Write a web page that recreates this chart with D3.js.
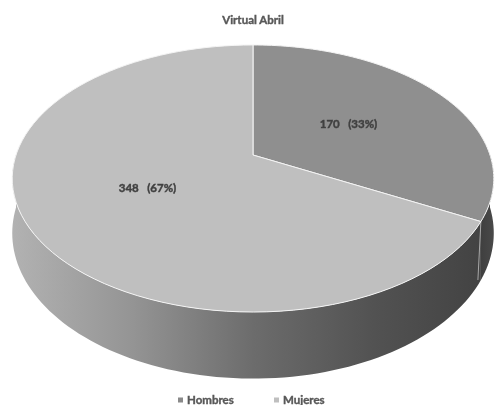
<!DOCTYPE html>
<html>
<head>
<meta charset="utf-8">
<script src="https://cdn.jsdelivr.net/npm/d3@7"></script>
<style>
  html, body { margin: 0; padding: 0; background: #fff; }
  text { font-family: Lato, "Open Sans", sans-serif; font-weight: 700; white-space: pre; stroke-width: 0.4px; }
</style>
</head>
<body>
<div id="chart"></div>
<script>
var title = "Virtual Abril";
var categories = ["Hombres", "Mujeres"];
var values = [170, 348];
var percents = ["33%", "67%"];

var width = 503, height = 405;
var topColor = ["#8f8f8f", "#bfbfbf"];
var legendColor = ["#8a8a8a", "#bfbfbf"];

var svg = d3.select("#chart").append("svg")
  .attr("width", width)
  .attr("height", height)
  .style("display", "block");

// the pie is a flat circle seen in perspective, so angles go through a projection
var cx = 253, persp = 0.176;
function project(a, disc) {
  var u = Math.sin(a), v = Math.cos(a), w = 1 + persp * v;
  return [cx + disc.rx * u / w, disc.cy - disc.ry * v / w];
}
var topDisc = {cy: 155, rx: 237, ry: 129.4};
var botDisc = {cy: 207.5, rx: 237, ry: 141};

function arcPoints(a0, a1, disc) {
  return d3.range(0, 91).map(function(i) {
    return project(a0 + (a1 - a0) * i / 90, disc);
  });
}

var line = d3.line().curve(d3.curveLinear);
var pie = d3.pie().sort(null).value(function(d) { return d; });
var arcs = pie(values);

var defs = svg.append("defs");

// source picture is a little soft, mostly visible on the text
defs.append("filter").attr("id", "soft")
  .append("feGaussianBlur").attr("stdDeviation", 0.3);

// wall shading, light on the left and dark on the right
function wallGradient(id, stops) {
  var g = defs.append("linearGradient")
    .attr("id", id)
    .attr("gradientUnits", "userSpaceOnUse")
    .attr("x1", 12).attr("x2", 495).attr("y1", 0).attr("y2", 0);
  stops.forEach(function(s) {
    g.append("stop").attr("offset", s[0]).attr("stop-color", s[1]);
  });
}
wallGradient("wall0", [[0, "#222222"], [0.9, "#262626"], [1, "#4a4a4a"]]);
wallGradient("wall1", [[0, "#b2b2b2"], [0.25, "#949494"], [0.5, "#6c6c6c"], [0.75, "#525252"], [1, "#414141"]]);

var front0 = Math.PI / 2, front1 = Math.PI * 1.5;
arcs.forEach(function(d, i) {
  var a0 = Math.max(d.startAngle, front0), a1 = Math.min(d.endAngle, front1);
  var pts = arcPoints(a0, a1, topDisc).concat(arcPoints(a1, a0, botDisc));
  svg.append("path")
    .attr("d", line(pts) + "Z")
    .attr("fill", "url(#wall" + i + ")");
});

// pale edge between the two walls
svg.append("line")
  .attr("x1", project(arcs[0].endAngle, topDisc)[0])
  .attr("y1", project(arcs[0].endAngle, topDisc)[1])
  .attr("x2", project(arcs[0].endAngle, botDisc)[0] - 3)
  .attr("y2", project(arcs[0].endAngle, botDisc)[1])
  .attr("stroke", "#a8a8a8")
  .attr("stroke-width", 1);

// top face
arcs.forEach(function(d, i) {
  var pts = [[cx, topDisc.cy]].concat(arcPoints(d.startAngle, d.endAngle, topDisc));
  svg.append("path")
    .attr("d", line(pts) + "Z")
    .attr("fill", topColor[i])
    .attr("stroke", "#f4f4f4")
    .attr("stroke-width", 1)
    .attr("stroke-linejoin", "round");
});

var textLayer = svg.append("g").attr("filter", "url(#soft)");

textLayer.append("text")
  .attr("x", 253).attr("y", 24)
  .attr("text-anchor", "middle")
  .attr("font-size", 11.5)
  .attr("fill", "#595959")
  .attr("stroke", "#595959")
  .text(title);

var labelPos = [[348.5, 128], [147.5, 192]];
values.forEach(function(v, i) {
  textLayer.append("text")
    .attr("x", labelPos[i][0]).attr("y", labelPos[i][1])
    .attr("text-anchor", "middle")
    .attr("font-size", 11.5)
    .attr("fill", "#404040")
    .attr("stroke", "#404040")
    .text(v + "   (" + percents[i] + ")");
});

var legendX = d3.scalePoint().domain(categories).range([178, 274]);
categories.forEach(function(c) {
  var i = categories.indexOf(c);
  svg.append("rect")
    .attr("x", legendX(c)).attr("y", 397.5)
    .attr("width", 5).attr("height", 5)
    .attr("fill", legendColor[i]);
  textLayer.append("text")
    .attr("x", legendX(c) + 9).attr("y", 404)
    .attr("font-size", 11.5)
    .attr("fill", "#595959")
    .attr("stroke", "#595959")
    .text(c);
});
</script>
</body>
</html>
